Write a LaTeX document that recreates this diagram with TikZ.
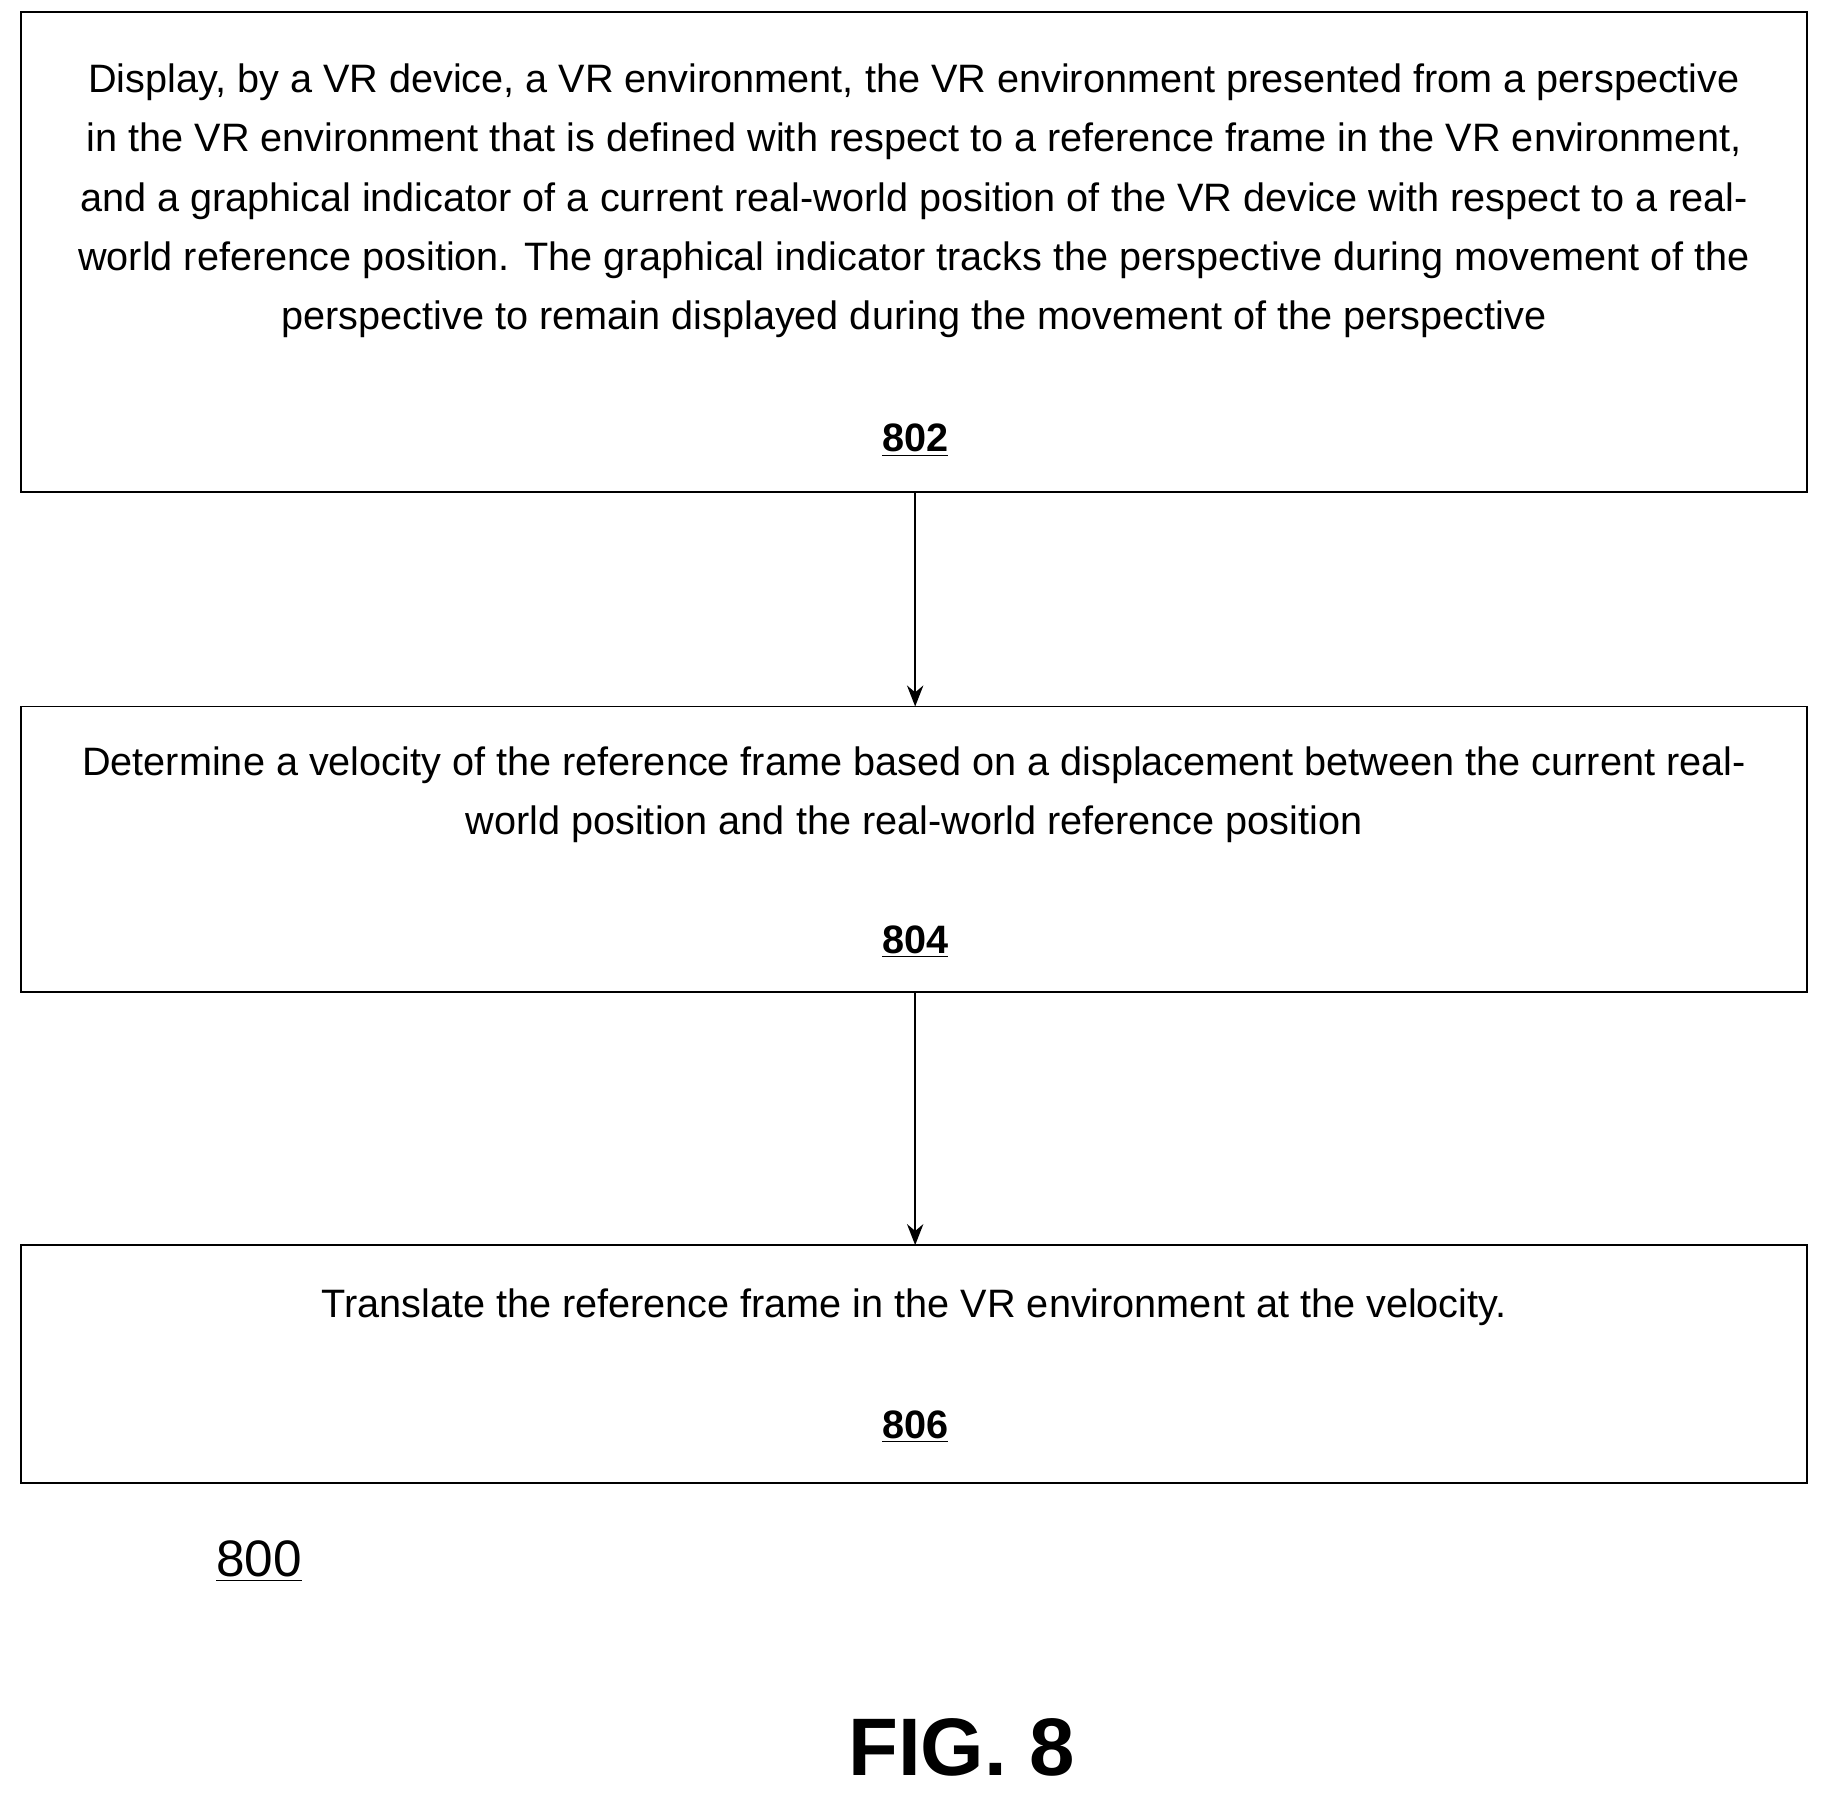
\documentclass[tikz,border=0pt]{standalone}
\usepackage{fontspec}
\setmainfont{Liberation Sans}
\usetikzlibrary{arrows.meta}
\begin{document}
\begin{tikzpicture}[x=0.5pt,y=-0.5pt,
  box/.style={draw,line width=0.8pt},
  txt/.style={align=center,font=\fontsize{17}{25.5}\selectfont,inner sep=0pt},
  num/.style={font=\fontsize{17}{20}\selectfont\bfseries,inner sep=0pt},
  arr/.style={-{Stealth[length=9pt,width=7pt]},line width=0.8pt}]
\useasboundingbox (0,0) rectangle (1568,1546);
\draw[box] (18,10) rectangle (1550,422);
\draw[box] (18,606) rectangle (1550,851);
\draw[box] (18,1068) rectangle (1550,1272);
\coordinate (b1) at (785,422); \coordinate (t2) at (785,606);
\coordinate (b2) at (785,851); \coordinate (t3) at (785,1068);
\draw[arr] (b1) -- (t2);
\draw[arr] (b2) -- (t3);
\node[txt,anchor=north] (t1) at (784,54) {Display, by a VR device, a VR environment, the VR environment presented from a perspective\\
in the VR environment that is defined with respect to a reference frame in the VR environment,\\
and a graphical indicator of a current real-world position of the VR device with respect to a real-\\
world reference position. The graphical indicator tracks the perspective during movement of the\\
perspective to remain displayed during the movement of the perspective};
\node[num] (n1) at (785,378) {\underline{802}};
\node[txt,anchor=north] (t2x) at (784,640) {Determine a velocity of the reference frame based on a displacement between the current real-\\
world position and the real-world reference position};
\node[num] (n2) at (785,808) {\underline{804}};
\node[txt,anchor=north] (t3x) at (784,1105) {Translate the reference frame in the VR environment at the velocity.};
\node[num] (n3) at (785,1224) {\underline{806}};
\node[inner sep=0pt,font=\fontsize{22}{26}\selectfont] (n800) at (222,1339) {\underline{800}};
\node[inner sep=0pt,font=\fontsize{35}{40}\selectfont\bfseries] (fig) at (825,1499) {FIG. 8};
\end{tikzpicture}
\end{document}
